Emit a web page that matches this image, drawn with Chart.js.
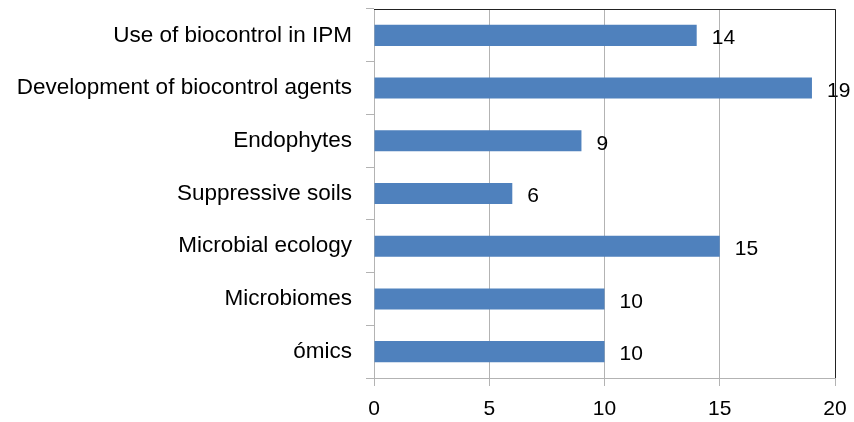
<!DOCTYPE html>
<html>
<head>
<meta charset="utf-8">
<script src="https://cdn.jsdelivr.net/npm/chart.js@4/dist/chart.umd.min.js"></script>
<style>
  html, body { margin: 0; padding: 0; background: #fff; }
  #wrap { width: 854px; height: 422px; }
</style>
</head>
<body>
<div id="wrap"><canvas id="myChart" width="854" height="422"></canvas></div>
<script>
const categories = [
  "Use of biocontrol in IPM",
  "Development of biocontrol agents",
  "Endophytes",
  "Suppressive soils",
  "Microbial ecology",
  "Microbiomes",
  "ómics"
];
const counts = [14, 19, 9, 6, 15, 10, 10];
const xTicks = [0, 5, 10, 15, 20];

const fontFamily = "'Liberation Sans', Arial, sans-serif";

// values printed to the right of each bar
const barLabels = {
  id: "barLabels",
  afterDatasetsDraw(chart) {
    const ctx = chart.ctx;
    const meta = chart.getDatasetMeta(0);
    ctx.save();
    ctx.font = "21px " + fontFamily;
    ctx.fillStyle = "#000";
    ctx.textBaseline = "middle";
    ctx.textAlign = "left";
    meta.data.forEach((bar, i) => {
      ctx.fillText(String(counts[i]), bar.x + 15, bar.y + 3);
    });
    ctx.restore();
  }
};

// dark top/right frame of the plot area
const frame = {
  id: "frame",
  afterDraw(chart) {
    const { ctx, chartArea: a } = chart;
    ctx.save();
    ctx.strokeStyle = "#222";
    ctx.lineWidth = 1;
    ctx.beginPath();
    ctx.moveTo(a.left, a.top + 0.5);
    ctx.lineTo(a.right + 0.5, a.top + 0.5);
    ctx.lineTo(a.right + 0.5, a.bottom);
    ctx.stroke();
    ctx.restore();
  }
};

new Chart(document.getElementById("myChart").getContext("2d"), {
  type: "bar",
  data: {
    labels: categories,
    datasets: [{
      data: counts,
      backgroundColor: "#4F81BD",
      borderWidth: 0,
      categoryPercentage: 1,
      barPercentage: 0.4
    }]
  },
  options: {
    indexAxis: "y",
    responsive: false,
    animation: false,
    layout: { padding: { top: 9, right: 19, left: 0, bottom: 0 } },
    plugins: { legend: { display: false }, tooltip: { enabled: false } },
    scales: {
      x: {
        min: 0,
        max: 20,
        afterBuildTicks(scale) { scale.ticks = xTicks.map(v => ({ value: v })); },
        afterFit(scale) {
          scale.height = 44;
          scale.paddingLeft = 0;
          scale.paddingRight = 0;
        },
        grid: { color: "#b3b3b3", tickLength: 8, lineWidth: 1 },
        border: { color: "#b3b3b3" },
        ticks: { color: "#000", font: { family: fontFamily, size: 21 }, padding: 11 }
      },
      y: {
        afterFit(scale) {
          scale.width = 374;
          scale.paddingTop = 0;
          scale.paddingBottom = 0;
        },
        grid: { offset: true, drawOnChartArea: false, color: "#b3b3b3", tickLength: 8 },
        border: { color: "#b3b3b3" },
        ticks: { color: "#000", font: { family: fontFamily, size: 22.5 }, padding: 14 }
      }
    }
  },
  plugins: [barLabels, frame]
});
</script>
</body>
</html>
